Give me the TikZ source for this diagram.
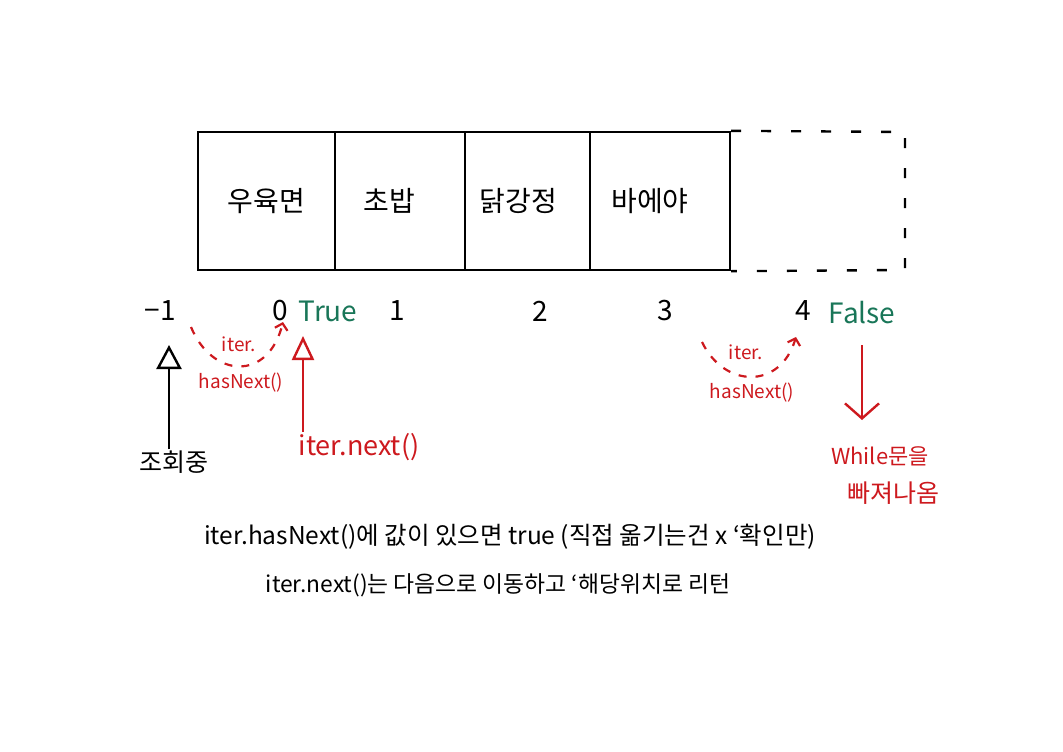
\documentclass[tikz,border=0pt]{standalone}
\usepackage{fontspec}
\setmainfont{Noto Sans CJK KR}
\usetikzlibrary{arrows.meta}
\definecolor{hred}{RGB}{205,25,30}
\definecolor{hgreen}{RGB}{25,118,88}
\tikzset{
  cell/.style={draw, line width=2.4pt, minimum height=138pt, inner sep=0pt, font=\fontsize{28}{28}\selectfont},
  idx/.style={font=\fontsize{28}{28}\selectfont, inner sep=1pt},
  gtxt/.style={idx, text=hgreen},
  rsmall/.style={text=hred, font=\fontsize{19}{19}\selectfont, inner sep=1pt},
  rtxt/.style={text=hred, font=\fontsize{25}{25}\selectfont, inner sep=1pt},
  btxt/.style={font=\fontsize{25}{25}\selectfont, inner sep=1pt},
  note/.style={inner sep=1pt},
  uparrow/.style={line width=2.4pt, -{Triangle[open, length=24pt, width=25pt, line width=2.4pt]}},
  downarrow/.style={line width=2.4pt, draw=hred, -{Straight Barb[length=15pt, width=34pt, line width=2.4pt]}},
  arc/.style={draw=hred, line width=2.2pt, dash pattern=on 8pt off 9pt, -{Straight Barb[length=6pt, width=13pt, line width=2.2pt]}}
}
\begin{document}
\begin{tikzpicture}[x=1pt,y=-1pt]
\useasboundingbox (0,0) rectangle (1063,752);

% cells
\node[cell, minimum width=137pt] (c1) at (266.5,201) {우육면};
\node[cell, minimum width=130pt] (c2) at (400,201) {\hspace*{-22pt}초밥};
\node[cell, minimum width=125pt] (c3) at (527.5,201) {\hspace*{-18pt}닭강정};
\node[cell, minimum width=140pt] (c4) at (660,201) {\hspace*{-20pt}바에야};
% empty dashed slot
\coordinate (e1) at (905,132);
\coordinate (e2) at (905,270);
\draw[line width=2.4pt, dash pattern=on 10pt off 20pt] (c4.north east) -- (e1) -- (e2) -- (c4.south east);

% indices
\node[idx] (m1) at (160,311) {−1};
\node[idx] (i0) at (280,311) {0};
\node[gtxt] (tr) at (328,311) {True};
\node[idx] (i1) at (397,311) {1};
\node[idx] (i2) at (540,311) {2};
\node[idx] (i3) at (665,311) {3};
\node[idx] (i4) at (803,311) {4};
\node[gtxt] (fa) at (862,313) {False};

% hasNext near 0
\node[rsmall] (it1) at (239,344) {iter.};
\node[rsmall] (hn1) at (241,383) {hasNext()};
\coordinate (a1s) at (191,327);
\coordinate (a1e) at (283,322);
\draw[arc] (a1s) .. controls (212,378) and (268,382) .. (a1e);

% hasNext near 4
\node[rsmall] (it2) at (746,352) {iter.};
\node[rsmall] (hn2) at (752,393) {hasNext()};
\coordinate (a2s) at (702,342);
\coordinate (a2e) at (796,337);
\draw[arc] (a2s) .. controls (724,388) and (780,390) .. (a2e);

% black arrow: 조회중
\node[btxt] (q) at (174,462) {조회중};
\coordinate (t1) at (169,345);
\draw[uparrow] (q.north -| t1) -- (t1);

% red arrow: iter.next()
\node[rtxt, font=\fontsize{27}{27}\selectfont] (nx) at (359,447) {iter.next()};
\coordinate (t2) at (303,336);
\draw[uparrow, draw=hred, -{Triangle[open, length=24pt, width=22pt, line width=2.4pt]}] (nx.north -| t2) -- (t2);

% red down arrow: While
\coordinate (d1) at (862,345);
\coordinate (d2) at (862,420);
\draw[downarrow] (d1) -- (d2);
\node[rtxt, font=\fontsize{22}{22}\selectfont] (w1) at (880,456) {While문을};
\node[rtxt] (w2) at (893,493) {빠져나옴};

% notes
\node[note, font=\fontsize{24.5}{24.5}\selectfont] (n1) at (510,537) {iter.hasNext()에 값이 있으면 true (직접 옮기는건 x ‘확인만)};
\node[note, font=\fontsize{22.8}{22.8}\selectfont] (n2) at (498,585) {iter.next()는 다음으로 이동하고 ‘해당위치로 리턴};
\end{tikzpicture}
\end{document}
